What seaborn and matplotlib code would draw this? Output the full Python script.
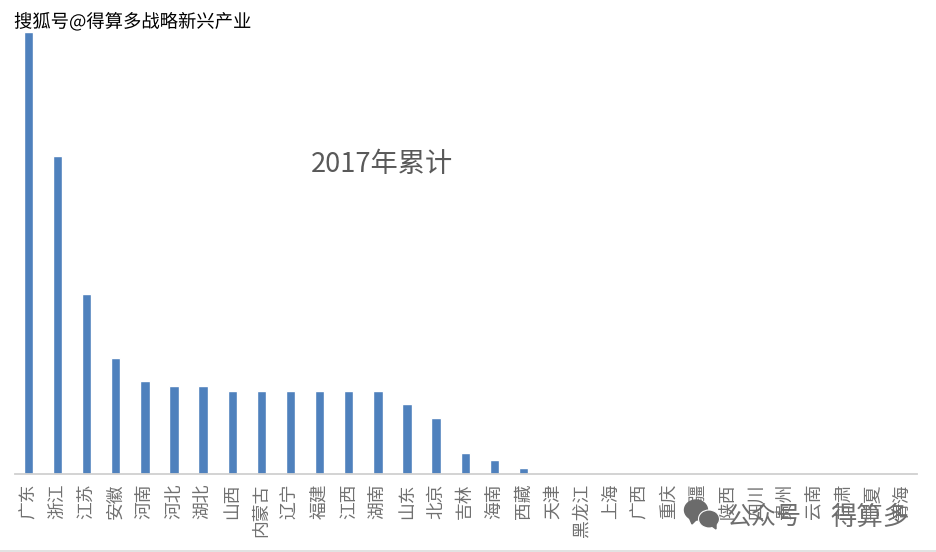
import matplotlib
matplotlib.use("Agg")
import matplotlib.pyplot as plt
import matplotlib.patheffects as pe
from matplotlib.patches import Ellipse, Polygon
import pandas as pd
import seaborn as sns

provinces = ["广东", "浙江", "江苏", "安徽", "河南", "河北", "湖北", "山西", "内蒙古", "辽宁",
             "福建", "江西", "湖南", "山东", "北京", "吉林", "海南", "西藏", "天津", "黑龙江",
             "上海", "广西", "重庆", "新疆", "陕西", "四川", "贵州", "云南", "甘肃", "宁夏", "青海"]
totals = [96, 69, 39, 25, 20, 19, 19, 18, 18, 18,
          18, 18, 18, 15, 12, 4.4, 3, 1.3, 0, 0,
          0, 0, 0, 0, 0, 0, 0, 0, 0, 0, 0]
chart_title = "2017年累计"
source_mark = "搜狐号@得算多战略新兴产业"
account_name = "公众号"
account_owner = "得算多"

W, H = 936, 552
sns.set_theme(style="white")
plt.rcParams["font.family"] = ["Noto Sans CJK SC", "DejaVu Sans"]

fig = plt.figure(figsize=(W / 100, H / 100), dpi=100, facecolor="white")
ax = fig.add_axes([15 / W, 1 - 473.5 / H, (917 - 15) / W, (473.5 - 31.5) / H])

df = pd.DataFrame({"province": provinces, "total": totals})
sns.barplot(data=df, x="province", y="total", color="#4F81BD", saturation=1,
            width=0.32, ax=ax)

ax.set_xlim(-0.46, 30.51)
ax.set_ylim(0, 96)
ax.set_xlabel("")
ax.set_ylabel("")
ax.set_yticks([])
ax.tick_params(axis="x", length=0, pad=7.5)
for label in ax.get_xticklabels():
    label.set_rotation(90)
    label.set_fontsize(12.8)
    label.set_color("#707070")
    label.set_fontweight("light")
    label.set_va("top")
    label.set_ha("center")
for side in ("top", "left", "right"):
    ax.spines[side].set_visible(False)
ax.spines["bottom"].set_color("#D0D0D0")
ax.spines["bottom"].set_linewidth(1.3)

fig.text(382 / W, 1 - 165 / H, chart_title, fontsize=19.6, color="#595959",
         ha="center", va="center", fontweight="light")

fig.text(14 / W, 1 - 22 / H, source_mark, fontsize=13.2, color="black",
         ha="left", va="center", fontweight="medium",
         path_effects=[pe.withStroke(linewidth=2.0, foreground="white")])

fig.text(727 / W, 1 - 517 / H, account_name, fontsize=18, color="#6E6E6E",
         ha="left", va="center")
fig.text(830 / W, 1 - 517 / H, account_owner, fontsize=19, color="#6E6E6E",
         ha="left", va="center")

# Chat-bubble logo beside the account name
overlay = fig.add_axes([0, 0, 1, 1], facecolor="none")
overlay.set_xlim(0, W)
overlay.set_ylim(H, 0)
overlay.axis("off")
overlay.add_patch(Ellipse((696, 510), 23, 20, color="#6B6B6B"))
overlay.add_patch(Polygon([(689, 517), (692, 524), (697, 519)], color="#6B6B6B"))
overlay.add_patch(Ellipse((709, 519), 21, 18, facecolor="#6B6B6B",
                          edgecolor="white", linewidth=0.8))
overlay.add_patch(Polygon([(712, 526), (716, 529), (716, 523)], color="#6B6B6B"))
overlay.plot([0, W], [551, 551], color="#DDDDDD", lw=1.2)

fig.savefig("out.png", dpi=100, facecolor="white")
